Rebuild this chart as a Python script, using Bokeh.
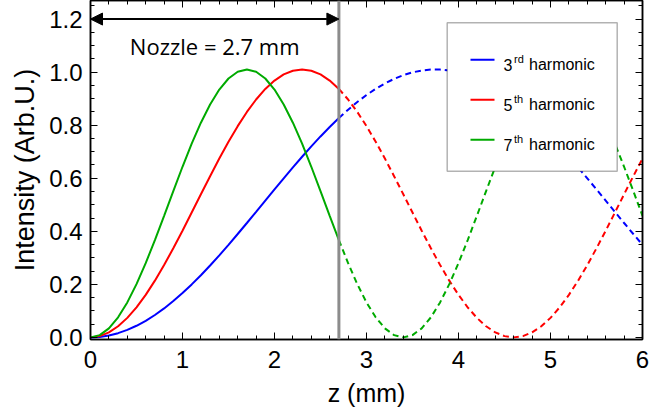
from bokeh.plotting import figure
from bokeh.models import (Range1d, LinearAxis, FixedTicker, Span, Arrow, NormalHead,
                          Label, BoxAnnotation)
from bokeh.embed import file_html
from bokeh.resources import INLINE

# ---------------- data ----------------
z_mm = [0.0, 0.1, 0.2, 0.3, 0.4, 0.5, 0.6, 0.7, 0.8, 0.9,
        1.0, 1.1, 1.2, 1.3, 1.4, 1.5, 1.6, 1.7, 1.8, 1.9,
        2.0, 2.1, 2.2, 2.3, 2.4, 2.5, 2.6, 2.7, 2.8, 2.9,
        3.0, 3.1, 3.2, 3.3, 3.4, 3.5, 3.6, 3.7, 3.8, 3.9,
        4.0, 4.1, 4.2, 4.3, 4.4, 4.5, 4.6, 4.7, 4.8, 4.9,
        5.0, 5.1, 5.2, 5.3, 5.4, 5.5, 5.6, 5.7, 5.8, 5.9, 6.0]

h3 = [0.0, 0.0018, 0.0071, 0.0159, 0.0281, 0.0437, 0.0625, 0.0844, 0.1092, 0.1369,
      0.1671, 0.1997, 0.2344, 0.2710, 0.3093, 0.3489, 0.3897, 0.4312, 0.4733, 0.5156,
      0.5578, 0.5996, 0.6408, 0.6810, 0.7200, 0.7575, 0.7932, 0.8269, 0.8583, 0.8873,
      0.9136, 0.9370, 0.9573, 0.9745, 0.9884, 0.9990, 1.0060, 1.0096, 1.0096, 1.0060,
      0.9990, 0.9884, 0.9745, 0.9573, 0.9370, 0.9136, 0.8873, 0.8583, 0.8269, 0.7932,
      0.7575, 0.7200, 0.6810, 0.6408, 0.5996, 0.5578, 0.5156, 0.4733, 0.4312, 0.3897, 0.3489]

h5 = [0.0, 0.0047, 0.0187, 0.0418, 0.0735, 0.1133, 0.1603, 0.2138, 0.2727, 0.3359,
      0.4022, 0.4705, 0.5395, 0.6077, 0.6741, 0.7374, 0.7963, 0.8498, 0.8968, 0.9365,
      0.9682, 0.9913, 1.0053, 1.0100, 1.0053, 0.9913, 0.9682, 0.9365, 0.8968, 0.8498,
      0.7963, 0.7374, 0.6741, 0.6077, 0.5395, 0.4705, 0.4022, 0.3359, 0.2727, 0.2138,
      0.1603, 0.1133, 0.0735, 0.0418, 0.0187, 0.0047, 0.0, 0.0047, 0.0187, 0.0418,
      0.0735, 0.1133, 0.1603, 0.2138, 0.2727, 0.3359, 0.4022, 0.4705, 0.5395, 0.6077, 0.6741]

h7 = [0.0, 0.0086, 0.0341, 0.0756, 0.1318, 0.2007, 0.2799, 0.3668, 0.4584, 0.5516,
      0.6432, 0.7301, 0.8094, 0.8782, 0.9344, 0.9760, 1.0014, 1.0100, 1.0014, 0.9760,
      0.9344, 0.8782, 0.8094, 0.7301, 0.6432, 0.5516, 0.4584, 0.3668, 0.2799, 0.2007,
      0.1318, 0.0756, 0.0341, 0.0086, 0.0, 0.0086, 0.0341, 0.0756, 0.1318, 0.2007,
      0.2799, 0.3668, 0.4584, 0.5516, 0.6432, 0.7301, 0.8094, 0.8782, 0.9344, 0.9760,
      1.0014, 1.0100, 1.0014, 0.9760, 0.9344, 0.8782, 0.8094, 0.7301, 0.6432, 0.5516, 0.4584]

series_orders = ["3", "5", "7"]
series_suffix = ["rd", "th", "th"]
series_word = "harmonic"
series_colors = ["#0000FF", "#FF0000", "#00AA00"]

nozzle_mm = 2.7
arrow_level = 1.2
nozzle_text = "Nozzle = 2.7 mm"

x_ticks = [0, 1, 2, 3, 4, 5, 6]
x_tick_labels = ["0", "1", "2", "3", "4", "5", "6"]
y_ticks = [0.0, 0.2, 0.4, 0.6, 0.8, 1.0, 1.2]
y_tick_labels = ["0.0", "0.2", "0.4", "0.6", "0.8", "1.0", "1.2"]
x_minor = [round(0.2 * i, 1) for i in range(31)]
y_minor = [round(0.05 * i, 2) for i in range(26)]

# ---------------- figure ----------------
p = figure(width=665, height=414, output_backend="svg", toolbar_location=None,
           x_range=Range1d(0, 6), y_range=Range1d(-0.008, 1.27),
           min_border_left=90, min_border_right=23, min_border_top=0, min_border_bottom=75)
p.background_fill_color = "white"
p.border_fill_color = "white"
p.grid.visible = False
p.outline_line_color = "black"
p.outline_line_width = 1.5

TICK_FONT = "Liberation Sans"

xb = p.below[0]
yl = p.left[0]
xb.ticker = FixedTicker(ticks=x_ticks, minor_ticks=x_minor)
yl.ticker = FixedTicker(ticks=y_ticks, minor_ticks=y_minor)
xb.major_label_overrides = {t: l for t, l in zip(x_ticks, x_tick_labels)}
yl.major_label_overrides = {t: l for t, l in zip(y_ticks, y_tick_labels)}
xb.axis_label = "z (mm)"
yl.axis_label = "Intensity (Arb.U.)"

top_axis = LinearAxis(ticker=FixedTicker(ticks=x_ticks, minor_ticks=x_minor))
right_axis = LinearAxis(ticker=FixedTicker(ticks=y_ticks, minor_ticks=y_minor))
p.add_layout(top_axis, "above")
p.add_layout(right_axis, "right")

for ax in [xb, yl, top_axis, right_axis]:
    ax.axis_line_color = "black"
    ax.axis_line_width = 1.5
    ax.major_tick_line_color = "black"
    ax.minor_tick_line_color = "black"
    ax.major_tick_line_width = 1
    ax.minor_tick_line_width = 1
    ax.major_tick_in = 7
    ax.major_tick_out = 0
    ax.minor_tick_in = 4
    ax.minor_tick_out = 0
    ax.major_label_text_font = TICK_FONT
    ax.major_label_text_color = "black"
    ax.axis_label_text_font = TICK_FONT
    ax.axis_label_text_font_style = "normal"
    ax.axis_label_text_color = "black"

for ax in [top_axis, right_axis]:
    ax.major_label_text_color = None
    ax.major_label_text_font_size = "2px"
    ax.major_label_standoff = 0

xb.major_label_text_font_size = "24px"
xb.major_label_standoff = 11
xb.axis_label_text_font_size = "25px"
xb.axis_label_standoff = 8
yl.major_label_text_font_size = "24px"
yl.major_label_standoff = 8
yl.axis_label_text_font_size = "27px"
yl.axis_label_standoff = 6

# ---------------- curves ----------------
solid_idx = [i for i, z in enumerate(z_mm) if z <= nozzle_mm + 1e-9]
dash_idx = [i for i, z in enumerate(z_mm) if z >= nozzle_mm - 1e-9]

for vals, col in zip([h3, h5, h7], series_colors):
    p.line([z_mm[i] for i in dash_idx], [vals[i] for i in dash_idx],
           line_color=col, line_width=2, line_dash="6 4")
for vals, col in zip([h3, h5, h7], series_colors):
    p.line([z_mm[i] for i in solid_idx], [vals[i] for i in solid_idx],
           line_color=col, line_width=2)

# nozzle marker
p.add_layout(Span(location=nozzle_mm, dimension="height", line_color="#8C8C8C", line_width=3))
p.add_layout(Arrow(x_start=0, y_start=arrow_level, x_end=nozzle_mm, y_end=arrow_level,
                   line_color="black", line_width=2,
                   start=NormalHead(size=12, fill_color="black", line_color="black"),
                   end=NormalHead(size=12, fill_color="black", line_color="black")))
p.add_layout(Label(x=nozzle_mm / 2, y=1.1, text=nozzle_text, text_align="center",
                   text_baseline="middle", text_font="Open Sans", text_font_size="22px",
                   text_color="black"))

# ---------------- legend (screen units, relative to the frame's lower-left) ----------------
LEG_L, LEG_R, LEG_B, LEG_T = 356.7, 526.7, 168.3, 316.7
ROW_Y = [279.7, 239.7, 199.7]
p.add_layout(BoxAnnotation(left=LEG_L, right=LEG_R, bottom=LEG_B, top=LEG_T,
                           left_units="screen", right_units="screen",
                           bottom_units="screen", top_units="screen",
                           fill_color="white", fill_alpha=1.0,
                           line_color="black", line_width=1.5))
for ry, order, suf, col in zip(ROW_Y, series_orders, series_suffix, series_colors):
    p.add_layout(BoxAnnotation(left=380, right=404, bottom=ry - 1, top=ry + 1,
                               left_units="screen", right_units="screen",
                               bottom_units="screen", top_units="screen",
                               fill_color=col, fill_alpha=1.0, line_color=None))
    p.add_layout(Label(x=413, y=ry - 5, x_units="screen", y_units="screen",
                       text=order, text_font=TICK_FONT, text_font_size="16px",
                       text_baseline="alphabetic", text_align="left", text_color="black"))
    p.add_layout(Label(x=423.5, y=ry + 1, x_units="screen", y_units="screen",
                       text=suf, text_font=TICK_FONT, text_font_size="11px",
                       text_baseline="alphabetic", text_align="left", text_color="black"))
    p.add_layout(Label(x=438.5, y=ry - 5, x_units="screen", y_units="screen",
                       text=series_word, text_font=TICK_FONT, text_font_size="16px",
                       text_baseline="alphabetic", text_align="left", text_color="black"))

open("out.html", "w").write(file_html(p, INLINE))
